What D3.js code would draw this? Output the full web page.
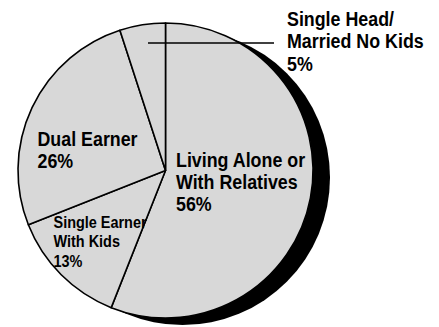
<!DOCTYPE html>
<html>
<head>
<meta charset="utf-8">
<script src="https://cdn.jsdelivr.net/npm/d3@7"></script>
<style>
  html, body { margin: 0; padding: 0; background: #fff; }
  svg { display: block; }
  text { font-family: "Liberation Sans", Arial, sans-serif; font-weight: bold; fill: #000; }
</style>
</head>
<body>
<svg id="chart" width="439" height="327"></svg>
<script>
// Household types, share of total (%)
const categories = [
  "Living Alone or With Relatives",
  "Single Earner With Kids",
  "Dual Earner",
  "Single Head/ Married No Kids"
];
const values = [56, 13, 26, 5];
// Label lines per category (percentage line is appended from values)
const labelLines = [
  ["Living Alone or", "With Relatives"],
  ["Single Earner", "With Kids"],
  ["Dual Earner"],
  ["Single Head/", "Married No Kids"]
];

// Layout
const W = 439, H = 327;
const cx = 165.5, cy = 170.5, R = 147.5;
const shadowOffset = [17, 7];
const fill = "#d8d8d8";
const labelLayout = [
  { x: 176,  y: 167,   size: 19.5, lh: 22 },
  { x: 53.5, y: 228,   size: 15.8, lh: 19.5 },
  { x: 37.5, y: 145.5, size: 19.5, lh: 22.5 },
  { x: 287,  y: 26,    size: 19.5, lh: 22.5 }
];
const condense = 0.915;

const svg = d3.select("#chart");
const g = svg.append("g").attr("transform", `translate(${cx},${cy})`);

const pie = d3.pie().sort(null).value(d => d).startAngle(0).endAngle(2 * Math.PI);
const arcs = pie(values);
const arc = d3.arc().innerRadius(0).outerRadius(R);

// Drop shadow
g.append("circle")
  .attr("cx", shadowOffset[0]).attr("cy", shadowOffset[1])
  .attr("r", R).attr("fill", "#000");

// Slices
g.selectAll("path.slice")
  .data(arcs)
  .join("path")
  .attr("class", "slice")
  .attr("d", arc)
  .attr("fill", fill)
  .attr("stroke", "#000")
  .attr("stroke-width", 1.6)
  .attr("stroke-linejoin", "round");

// Leader line for the small slice
const small = arcs[3];
const leadY = -127.5;
const leadX0 = -17.5;
svg.append("line")
  .attr("x1", cx + leadX0).attr("y1", cy + leadY)
  .attr("x2", 274).attr("y2", cy + leadY)
  .attr("stroke", "#000").attr("stroke-width", 1.5);

// Labels
categories.forEach((c, i) => {
  const L = labelLayout[i];
  const lines = labelLines[i].concat([`${values[i]}%`]);
  const lg = svg.append("g")
    .attr("transform", `translate(${L.x},${L.y}) scale(${condense},1)`);
  lg.selectAll("text")
    .data(lines)
    .join("text")
    .attr("x", 0)
    .attr("y", (d, k) => k * L.lh)
    .attr("font-size", L.size)
    .text(d => d);
});
</script>
</body>
</html>
